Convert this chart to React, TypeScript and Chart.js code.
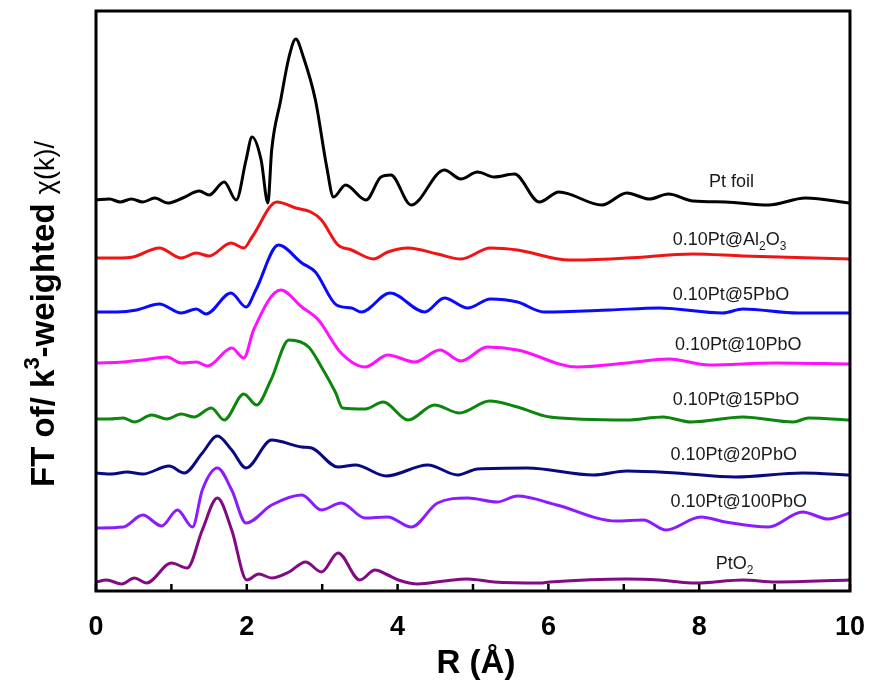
import React, { useEffect, useRef } from "react";
import { Chart, registerables } from "chart.js";

Chart.register(...registerables);

// ---- data (R in Å, FT magnitude in arbitrary stacked units) ----
const ptFoilR = [0, 0.18, 0.32, 0.47, 0.62, 0.78, 0.95, 1.15, 1.37, 1.5, 1.7, 1.86, 1.99, 2.07, 2.19, 2.28, 2.33, 2.45, 2.56, 2.65, 2.75, 2.91, 3.06, 3.15, 3.31, 3.58, 3.78, 3.91, 4.18, 4.62, 4.84, 5.06, 5.28, 5.55, 5.88, 6.14, 6.71, 7.04, 7.34, 7.59, 7.92, 8.35, 8.92, 9.41, 10];
const ptFoilI = [39.1, 39.2, 38.9, 39.2, 38.9, 39.3, 38.8, 39.3, 40.0, 39.6, 40.9, 39.1, 43.1, 45.4, 43.1, 38.8, 44.1, 49.1, 53.4, 55.2, 53.4, 49.1, 42.4, 39.4, 40.6, 39.1, 41.4, 41.6, 38.6, 42.1, 41.2, 41.9, 41.4, 41.7, 38.9, 39.9, 38.6, 39.8, 39.2, 39.7, 39.0, 38.9, 38.6, 39.3, 38.8];

const al2o3R = [0, 0.28, 0.49, 0.84, 1.13, 1.33, 1.5, 1.79, 1.96, 2.07, 2.4, 2.65, 2.85, 2.99, 3.21, 3.39, 3.68, 3.87, 4.14, 4.53, 4.84, 5.23, 5.59, 6.28, 7.04, 7.92, 8.58, 10];
const al2o3I = [33.3, 33.3, 33.4, 34.3, 33.3, 33.8, 33.5, 34.8, 34.3, 35.4, 38.9, 38.3, 37.9, 37.1, 34.6, 34.1, 33.2, 33.9, 34.3, 33.7, 33.2, 34.3, 34.1, 33.1, 33.3, 33.7, 33.5, 33.2];

const pbo5R = [0, 0.28, 0.54, 0.84, 1.13, 1.33, 1.46, 1.79, 1.99, 2.12, 2.42, 2.73, 2.91, 3.19, 3.39, 3.52, 3.9, 4.36, 4.62, 4.93, 5.23, 5.59, 5.94, 6.81, 7.47, 8.31, 8.58, 9.31, 10];
const pbo5I = [27.9, 27.9, 28.1, 28.7, 27.8, 28.2, 27.7, 29.8, 28.4, 30.1, 34.6, 32.8, 31.9, 28.6, 28.3, 27.9, 29.8, 27.9, 29.3, 28.3, 29.2, 28.9, 27.9, 28.1, 28.3, 27.8, 28.2, 27.8, 27.8];

const pbo10R = [0, 0.36, 0.62, 0.94, 1.13, 1.33, 1.48, 1.8, 1.96, 2.09, 2.45, 2.73, 2.95, 3.25, 3.57, 3.87, 4.23, 4.56, 4.84, 5.19, 5.59, 6.38, 7.04, 7.6, 8.13, 9.01, 10];
const pbo10I = [22.8, 22.9, 23.1, 23.4, 22.8, 22.9, 22.5, 24.3, 23.3, 26.1, 30.1, 28.4, 27.1, 23.8, 22.4, 23.6, 22.9, 24.1, 23.0, 24.4, 24.1, 22.4, 22.8, 23.2, 22.6, 22.8, 22.7];

const pbo15R = [0, 0.18, 0.36, 0.51, 0.74, 0.94, 1.13, 1.3, 1.53, 1.7, 1.96, 2.13, 2.32, 2.56, 2.82, 2.99, 3.18, 3.27, 3.57, 3.81, 4.14, 4.49, 4.82, 5.22, 5.59, 6.02, 7.04, 7.52, 7.89, 8.58, 9.25, 9.45, 10];
const pbo15I = [17.2, 17.2, 17.3, 16.9, 17.6, 17.2, 17.7, 17.4, 18.3, 17.1, 19.7, 18.6, 21.1, 25.1, 24.4, 22.4, 19.8, 18.3, 18.2, 18.9, 17.1, 18.6, 17.8, 19.0, 18.4, 17.4, 17.1, 17.4, 16.9, 17.4, 16.9, 17.3, 17.1];

const pbo20R = [0, 0.21, 0.41, 0.62, 0.97, 1.17, 1.41, 1.61, 1.8, 1.99, 2.33, 2.73, 2.86, 3.21, 3.44, 3.85, 4.4, 4.8, 5.06, 5.72, 6.6, 7.04, 7.69, 8.48, 9.37, 10];
const pbo20I = [11.8, 11.7, 11.9, 11.7, 12.5, 11.8, 13.8, 15.5, 14.1, 12.3, 15.1, 14.4, 14.3, 12.4, 12.6, 11.5, 12.6, 11.6, 12.2, 12.3, 11.6, 12.0, 11.8, 11.4, 11.8, 11.6];

const pbo100R = [0, 0.36, 0.62, 0.87, 1.08, 1.28, 1.41, 1.61, 1.8, 1.99, 2.33, 2.73, 2.99, 3.25, 3.57, 3.87, 4.18, 4.53, 4.93, 5.32, 5.59, 6.11, 6.9, 7.26, 7.56, 8.02, 8.35, 8.92, 9.37, 9.71, 10];
const pbo100I = [6.3, 6.4, 7.6, 6.5, 8.1, 6.4, 10.1, 12.3, 10.1, 6.8, 8.6, 9.6, 8.1, 8.8, 7.3, 7.4, 6.4, 8.8, 9.3, 8.9, 9.5, 8.6, 7.0, 7.1, 6.1, 7.4, 6.9, 6.4, 7.9, 7.2, 7.8];

const pto2R = [0, 0.14, 0.34, 0.51, 0.67, 1.0, 1.21, 1.41, 1.61, 1.8, 2.0, 2.16, 2.33, 2.56, 2.78, 2.99, 3.21, 3.5, 3.7, 3.87, 4.01, 4.27, 4.62, 4.93, 5.28, 5.89, 6.02, 7.04, 7.47, 7.96, 8.58, 9.01, 10];
const pto2I = [0.9, 1.1, 0.7, 1.3, 0.8, 2.8, 2.3, 6.1, 9.3, 6.1, 1.1, 1.7, 1.3, 1.9, 2.9, 1.9, 3.8, 1.1, 2.1, 1.6, 1.1, 0.7, 1.0, 1.2, 0.9, 0.8, 0.9, 1.2, 1.1, 0.8, 1.1, 0.9, 1.1];

const seriesNames = ["Pt foil", "0.10Pt@Al_2O_3", "0.10Pt@5PbO", "0.10Pt@10PbO", "0.10Pt@15PbO", "0.10Pt@20PbO", "0.10Pt@100PbO", "PtO_2"];
const seriesColors = ["#000000", "#f01414", "#0a0aff", "#ff10ff", "#0c860c", "#0a0a80", "#8a1cff", "#820a82"];
// label anchor (left edge R, vertical centre in intensity units)
const labelR = [8.13, 7.65, 7.65, 7.68, 7.65, 7.62, 7.62, 8.22];
const labelI = [40.9, 35.1, 29.6, 24.6, 19.1, 13.6, 8.9, 2.7];

const xTickValues = [0, 1, 2, 3, 4, 5, 6, 7, 8, 9, 10];
const xMin = 0;
const xMax = 10;
const yMin = 0;
const yMax = 58;

const FONT = "'Liberation Sans', Arial, Helvetica, sans-serif";
const NARROW = "'Liberation Sans Narrow', 'Arial Narrow', 'Liberation Sans', Arial, sans-serif";

const seriesR = [ptFoilR, al2o3R, pbo5R, pbo10R, pbo15R, pbo20R, pbo100R, pto2R];
const seriesI = [ptFoilI, al2o3I, pbo5I, pbo10I, pbo15I, pbo20I, pbo100I, pto2I];

function drawRich(ctx: CanvasRenderingContext2D, text: string, x: number, y: number, size: number) {
  const parts = text.split(/(_\d)/).filter((p) => p.length > 0);
  let cx = x;
  for (const p of parts) {
    if (p.startsWith("_")) {
      ctx.font = `${Math.round(size * 0.68)}px ${FONT}`;
      ctx.fillText(p.slice(1), cx, y + size * 0.38);
      cx += ctx.measureText(p.slice(1)).width;
    } else {
      ctx.font = `${size}px ${FONT}`;
      ctx.fillText(p, cx, y);
      cx += ctx.measureText(p).width;
    }
  }
}

const decorPlugin = {
  id: "decor",
  afterDraw(chart: any) {
    const { ctx, chartArea, scales } = chart;
    const { left, top, right, bottom } = chartArea;
    const xs = scales.x;
    const ys = scales.y;
    ctx.save();
    // frame
    ctx.strokeStyle = "#000";
    ctx.lineWidth = 3;
    ctx.strokeRect(left, top, right - left, bottom - top);
    // inward ticks
    ctx.lineWidth = 2.5;
    for (const v of xTickValues) {
      const px = xs.getPixelForValue(v);
      ctx.beginPath();
      ctx.moveTo(px, bottom);
      ctx.lineTo(px, bottom - 7);
      ctx.stroke();
    }
    // series labels
    ctx.fillStyle = "#1a1a1a";
    ctx.textBaseline = "middle";
    ctx.textAlign = "left";
    seriesNames.forEach((name, i) => {
      drawRich(ctx, name, xs.getPixelForValue(labelR[i]), ys.getPixelForValue(labelI[i]), 18);
    });
    // x title
    ctx.fillStyle = "#000";
    ctx.textAlign = "center";
    ctx.textBaseline = "alphabetic";
    ctx.font = `bold 33px ${NARROW}`;
    ctx.fillText("R (Å)", (left + right) / 2 + 3, 673);
    // y title (rotated)
    const parts = [
      { t: "FT of/ k", f: `bold 33px ${FONT}`, dy: 0 },
      { t: "3", f: `bold 22px ${FONT}`, dy: -15 },
      { t: "-weighted ", f: `bold 33px ${FONT}`, dy: 0 },
      { t: "χ(k)/", f: `27px ${FONT}`, dy: 0 },
    ];
    let total = 0;
    for (const p of parts) {
      ctx.font = p.f;
      total += ctx.measureText(p.t).width;
    }
    const cy = (top + bottom) / 2 + 13;
    ctx.translate(54, cy + total / 2);
    ctx.rotate(-Math.PI / 2);
    ctx.textAlign = "left";
    let cx = 0;
    for (const p of parts) {
      ctx.font = p.f;
      ctx.fillText(p.t, cx, p.dy);
      cx += ctx.measureText(p.t).width;
    }
    ctx.restore();
  },
};

export default function App() {
  const ref = useRef<HTMLCanvasElement>(null);
  useEffect(() => {
    document.body.style.margin = "0";
    const datasets = seriesNames.map((name, i) => ({
      label: name,
      data: seriesR[i].map((r, k) => ({ x: r, y: seriesI[i][k] })),
      borderColor: seriesColors[i],
      backgroundColor: seriesColors[i],
      borderWidth: 3,
      pointRadius: 0,
      fill: false,
      cubicInterpolationMode: "monotone" as const,
    }));
    const chart = new Chart(ref.current!, {
      type: "line",
      data: { datasets },
      options: {
        animation: false,
        responsive: false,
        maintainAspectRatio: false,
        layout: { padding: { left: 96, right: 22, top: 11, bottom: 0 } },
        plugins: { legend: { display: false }, tooltip: { enabled: false } },
        scales: {
          x: {
            type: "linear",
            min: xMin,
            max: xMax,
            grid: { display: false },
            border: { display: false },
            afterBuildTicks: (s: any) => {
              s.ticks = xTickValues.map((v) => ({ value: v }));
            },
            afterFit: (s: any) => {
              s.height = 90;
            },
            ticks: {
              autoSkip: false,
              maxRotation: 0,
              padding: 12,
              color: "#000",
              font: { family: NARROW, weight: "bold", size: 27 },
              callback: (v: any) => (Number(v) % 2 === 0 ? String(v) : ""),
            },
          },
          y: { type: "linear", min: yMin, max: yMax, display: false },
        },
      },
      plugins: [decorPlugin],
    });
    return () => chart.destroy();
  }, []);
  return (
    <div style={{ width: 877, height: 681 }}>
      <canvas ref={ref} width={877} height={681} style={{ display: "block" }} />
    </div>
  );
}
